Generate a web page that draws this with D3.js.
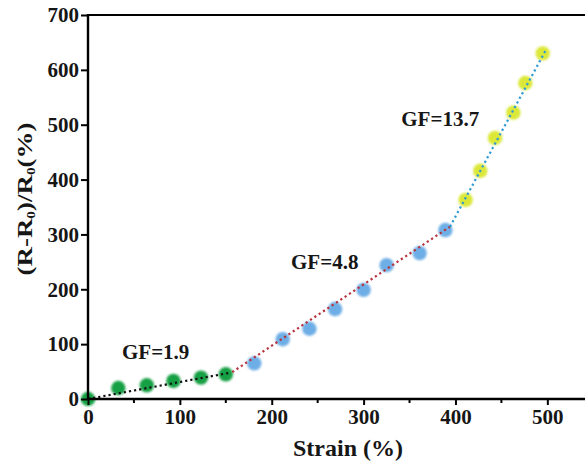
<!DOCTYPE html>
<html>
<head>
<meta charset="utf-8">
<script src="https://cdn.jsdelivr.net/npm/d3@7"></script>
<style>
  body { margin: 0; background: #fff; }
  text { font-family: "Liberation Serif", "Times New Roman", serif; font-weight: bold; fill: #161616; }
</style>
</head>
<body>
<div id="holder"></div>
<script>
// data
const greenX = [0, 33, 64, 93, 123, 150];
const greenY = [0, 20, 25, 33, 39, 45];
const blueX = [181, 212, 241, 269, 300, 325, 361, 389];
const blueY = [65, 109, 128, 164, 199, 244, 266, 308];
const yellowX = [411, 427, 443, 463, 476, 495];
const yellowY = [363, 416, 476, 522, 576, 630];

// dotted fit segments
const fitBlackX = [0, 155], fitBlackY = [0, 48];
const fitRedX = [157, 394], fitRedY = [49, 314];
const fitBlueX = [394, 499], fitBlueY = [314, 638];

const labels = ["GF=1.9", "GF=4.8", "GF=13.7"];
const labelX = [37, 221, 341];
const labelY = [73, 237, 498];

const xTicks = [0, 100, 200, 300, 400, 500];
const xMinor = [50, 150, 250, 350, 450];
const yTicks = [0, 100, 200, 300, 400, 500, 600, 700];

const w = 585, h = 466;
const mLeft = 88, mTop = 15, mBottom = 399, mRight = 585;

let svg = d3.select("#holder").append("svg")
    .attr("width", w).attr("height", h);

let defs = svg.append("defs");
defs.append("filter").attr("id", "soft")
    .attr("x", "-50%").attr("y", "-50%").attr("width", "200%").attr("height", "200%")
    .append("feGaussianBlur").attr("stdDeviation", 0.9);

let xScale = d3.scaleLinear().domain([0, 541]).range([mLeft, mRight]);
let yScale = d3.scaleLinear().domain([0, 700]).range([mBottom, mTop]);

// fit lines
const line = d3.line().x(d => xScale(d[0])).y(d => yScale(d[1]));
function fit(xs, ys, color) {
    svg.append("path")
        .attr("d", line(d3.zip(xs, ys)))
        .attr("fill", "none")
        .attr("stroke", color)
        .attr("stroke-width", 2.2)
        .attr("stroke-dasharray", "2.2,3");
}

// points
function dots(xs, ys, color) {
    svg.append("g").attr("filter", "url(#soft)")
        .selectAll("circle")
        .data(d3.zip(xs, ys))
        .enter().append("circle")
        .attr("cx", d => xScale(d[0]))
        .attr("cy", d => yScale(d[1]))
        .attr("r", 7.2)
        .attr("fill", color);
}
dots(greenX, greenY, "#17a044");
dots(blueX, blueY, "#6eaee6");
dots(yellowX, yellowY, "#dbe838");
fit(fitBlackX, fitBlackY, "#111");
fit(fitRedX, fitRedY, "#b8323c");
fit(fitBlueX, fitBlueY, "#2f9bd3");

// axes
const xAxis = d3.axisBottom(xScale).tickValues(xTicks).tickSize(6).tickPadding(4);
let gx = svg.append("g")
    .attr("transform", "translate(0," + mBottom + ")")
    .call(xAxis);
gx.selectAll(".tick line").attr("stroke-width", 2);
gx.selectAll("text").attr("font-size", 21).attr("fill", "#161616")
    .attr("font-family", "Liberation Serif").attr("font-weight", "bold");
gx.select(".domain").remove();
gx.selectAll(".minor").data(xMinor).enter().append("line")
    .attr("x1", d => xScale(d)).attr("x2", d => xScale(d))
    .attr("y1", 0).attr("y2", 4)
    .attr("stroke", "#000").attr("stroke-width", 2);

const yAxis = d3.axisLeft(yScale).tickValues(yTicks).tickSize(7).tickPadding(2);
let gy = svg.append("g")
    .attr("transform", "translate(" + mLeft + ",0)")
    .call(yAxis);
gy.selectAll(".tick line").attr("stroke-width", 2);
gy.selectAll("text").attr("font-size", 21).attr("fill", "#161616")
    .attr("font-family", "Liberation Serif").attr("font-weight", "bold");
gy.select(".domain").remove();

// frame lines
svg.append("line").attr("x1", mLeft).attr("x2", mRight).attr("y1", mBottom).attr("y2", mBottom)
    .attr("stroke", "#000").attr("stroke-width", 2.4);
svg.append("line").attr("x1", mLeft).attr("x2", mRight).attr("y1", mTop).attr("y2", mTop)
    .attr("stroke", "#000").attr("stroke-width", 2);
svg.append("line").attr("x1", mLeft).attr("x2", mLeft).attr("y1", mTop - 1).attr("y2", mBottom + 1)
    .attr("stroke", "#000").attr("stroke-width", 2.4);

// GF labels
labels.forEach((t, i) => {
    svg.append("text")
        .attr("x", xScale(labelX[i]))
        .attr("y", yScale(labelY[i]))
        .attr("font-size", 21)
        .text(t);
});

// axis titles
svg.append("text")
    .attr("x", 348).attr("y", 456)
    .attr("text-anchor", "middle")
    .attr("font-size", 24)
    .text("Strain (%)");

let yt = svg.append("text")
    .attr("text-anchor", "middle")
    .attr("font-size", 21);
yt.append("tspan").text("(R-R");
yt.append("tspan").attr("font-size", 12).attr("dy", 3).text("0");
yt.append("tspan").attr("dy", -3).text(")/R");
yt.append("tspan").attr("font-size", 12).attr("dy", 3).text("0");
yt.append("tspan").attr("dy", -3).text("(%)");
// squeeze along its length to the span seen in the picture
let tw = yt.node().getBBox().width;
let k = tw > 0 ? 153 / tw : 1;
yt.attr("transform", "translate(32,199) rotate(-90) scale(" + k + ",1)");
</script>
</body>
</html>
